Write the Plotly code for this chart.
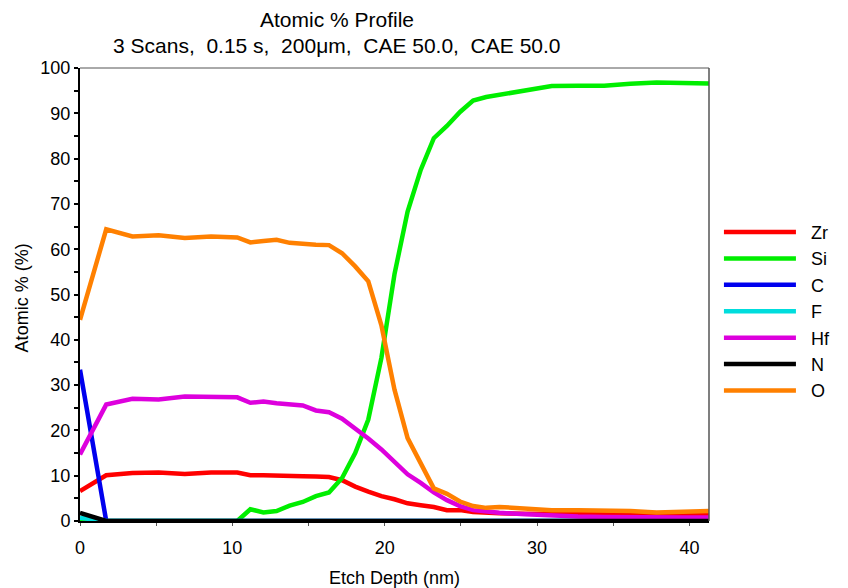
import plotly.graph_objects as go

depth = [0, 1.72, 3.44, 5.16, 6.88, 8.60, 10.32,
         11.18, 12.04, 12.90, 13.76, 14.62, 15.48, 16.34, 17.20, 18.06, 18.92,
         19.78, 20.64, 21.50, 22.36, 23.22, 24.08, 24.94, 25.80, 26.66, 27.52,
         29.24, 30.96, 32.68, 34.40, 36.12, 37.84, 39.56, 41.28]

zr = [6.6, 10.1, 10.6, 10.7, 10.4, 10.7, 10.7,
      10.1, 10.1, 10.1, 10.0, 9.9, 9.8, 9.7, 9.0, 7.6, 6.5,
      5.5, 4.8, 3.9, 3.5, 3.1, 2.4, 2.4, 2.0, 1.8, 1.7,
      1.6, 1.5, 1.5, 1.5, 1.5, 1.4, 1.4, 1.4]

si = [0, 0, 0, 0, 0, 0, 0,
      2.6, 1.9, 2.2, 3.4, 4.2, 5.5, 6.3, 9.5, 15.0, 22.4,
      36.0, 54.5, 68.3, 77.5, 84.5, 87.2, 90.3, 92.8, 93.6, 94.1,
      95.0, 96.0, 96.1, 96.1, 96.5, 96.8, 96.7, 96.6]

c = [33.4, 0, 0, 0, 0, 0, 0,
     0, 0, 0, 0, 0, 0, 0, 0, 0, 0,
     0, 0, 0, 0, 0, 0, 0, 0, 0, 0,
     0, 0, 0, 0, 0, 0, 0, 0]

f = [0.7, 0, 0, 0, 0, 0, 0,
     0, 0, 0, 0, 0, 0, 0, 0, 0, 0,
     0, 0, 0, 0, 0, 0, 0, 0, 0, 0,
     0, 0, 0, 0, 0, 0, 0, 0]

hf = [14.7, 25.7, 27.0, 26.8, 27.5, 27.3, 27.3,
      26.1, 26.4, 26.0, 25.8, 25.5, 24.4, 24.0, 22.6, 20.5, 18.2,
      15.8, 13.0, 10.3, 8.4, 6.3, 4.6, 3.3, 2.4, 2.0, 1.8,
      1.5, 1.2, 1.0, 0.9, 0.8, 0.8, 0.8, 0.8]

n = [1.8, 0, 0, 0, 0, 0, 0,
     0, 0, 0, 0, 0, 0, 0, 0, 0, 0,
     0, 0, 0, 0, 0, 0, 0, 0, 0, 0,
     0, 0, 0, 0, 0, 0, 0, 0]

o = [44.4, 64.4, 62.8, 63.1, 62.5, 62.8, 62.6,
     61.5, 61.8, 62.1, 61.4, 61.1, 61.0, 60.9, 59.1, 56.2, 52.9,
     43.2, 29.0, 18.3, 12.5, 7.2, 6.0, 4.3, 3.3, 2.9, 3.1,
     2.8, 2.4, 2.4, 2.4, 2.2, 1.9, 2.0, 2.2]

names = ["Zr", "Si", "C", "F", "Hf", "N", "O"]
colors = ["#ff0000", "#00ee00", "#0000ee", "#00dddd", "#dd00dd", "#000000", "#ff8000"]
values = [zr, si, c, f, hf, n, o]

title_line1 = "Atomic % Profile"
title_line2 = "3 Scans,  0.15 s,  200μm,  CAE 50.0,  CAE 50.0"
x_title = "Etch Depth (nm)"
y_title = "Atomic % (%)"

fig = go.Figure()
for name, vals, col in zip(names, values, colors):
    fig.add_trace(go.Scatter(x=depth, y=vals, name="\u200b\u00a0\u00a0" + name, mode="lines",
                             line=dict(color=col, width=4.5)))

font_family = "Liberation Sans, Arial, sans-serif"

fig.update_layout(
    width=840, height=580,
    margin=dict(l=72, r=136, t=60, b=67),
    paper_bgcolor="white", plot_bgcolor="white",
    font=dict(family=font_family, size=18, color="black"),
    showlegend=True,
    legend=dict(x=1.0158, xanchor="left", y=0.678, yanchor="top",
                font=dict(size=18, family=font_family), itemwidth=72,
                tracegroupgap=0, bgcolor="rgba(0,0,0,0)"),
    xaxis=dict(range=[0, 41.28], tickvals=[0, 10, 20, 30, 40], ticks="outside",
               ticklen=3, tickcolor="#555", showgrid=False, zeroline=False,
               showline=True, linecolor="black", linewidth=2, mirror=False,
               minor=dict(dtick=5, ticks="outside", ticklen=3, tickcolor="#555"),
               ticklabelstandoff=6,
               tickfont=dict(size=18)),
    yaxis=dict(range=[0, 100], dtick=10, ticks="outside", ticklen=4, tickwidth=2,
               tickcolor="black", showgrid=False, zeroline=False,
               showline=True, linecolor="black", linewidth=2,
               minor=dict(dtick=5, ticks="outside", ticklen=4, tickwidth=2, tickcolor="black"),
               tickfont=dict(size=18)),
    yaxis2=dict(range=[0, 100], overlaying="y", side="left", dtick=10, ticks="inside",
                ticklen=3, tickwidth=2, tickcolor="black", showticklabels=False,
                showgrid=False, zeroline=False, showline=False,
                minor=dict(dtick=5, ticks="inside", ticklen=3, tickwidth=2, tickcolor="black")),
    annotations=[
        dict(text=title_line1, xref="paper", yref="paper", x=0.408, y=1.1060,
             xanchor="center", yanchor="middle", showarrow=False, font=dict(size=21)),
        dict(text=title_line2, xref="paper", yref="paper", x=0.408, y=1.0495,
             xanchor="center", yanchor="middle", showarrow=False, font=dict(size=21)),
        dict(text=x_title, xref="paper", yref="paper", x=0.5, y=-0.1258,
             xanchor="center", yanchor="middle", showarrow=False, font=dict(size=18)),
        dict(text=y_title, xref="paper", yref="paper", x=-0.0918, y=0.492,
             xanchor="center", yanchor="middle", showarrow=False, textangle=-90,
             font=dict(size=18)),
    ],
    shapes=[dict(type="line", xref="paper", yref="paper", x0=0, x1=1, y0=1, y1=1,
                 line=dict(color="#555", width=1)),
            dict(type="line", xref="paper", yref="paper", x0=1, x1=1, y0=0, y1=1,
                 line=dict(color="#555", width=1.5))],
)

fig.write_html("out.html")
